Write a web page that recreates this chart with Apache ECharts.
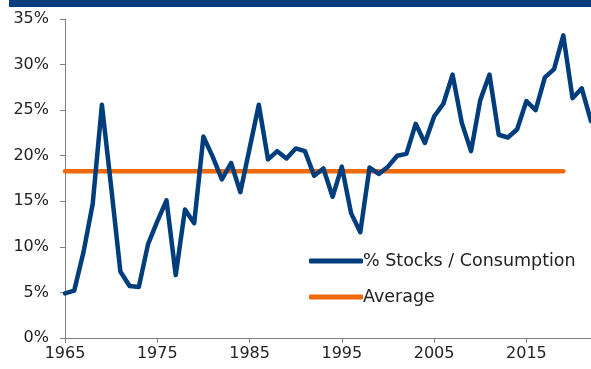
<!DOCTYPE html>
<html>
<head>
<meta charset="utf-8">
<script src="https://cdn.jsdelivr.net/npm/echarts@6/dist/echarts.min.js"></script>
<style>
  html, body { margin: 0; padding: 0; background: #ffffff; }
  #chart { width: 591px; height: 369px; }
</style>
</head>
<body>
<div id="chart"></div>
<script>
// Years shown on the horizontal axis
const years = [];
for (let y = 1965; y <= 2022; y++) years.push(String(y));

// Ending stocks as a share of consumption (%), one value per year 1965-2022
const stocksPct = [
  4.9, 5.2, 9.4, 14.7, 25.6, 16.6, 7.3, 5.7, 5.6, 10.3,
  12.8, 15.1, 6.9, 14.1, 12.6, 22.1, 19.9, 17.4, 19.2, 16.0,
  20.8, 25.6, 19.6, 20.5, 19.7, 20.8, 20.5, 17.8, 18.6, 15.5,
  18.8, 13.7, 11.6, 18.7, 18.0, 18.8, 20.0, 20.2, 23.5, 21.4,
  24.3, 25.7, 28.9, 23.6, 20.5, 26.1, 28.9, 22.3, 22.0, 22.9,
  26.0, 25.0, 28.6, 29.5, 33.2, 26.3, 27.4, 23.8
];

// Long-run average and the last year it is drawn through
const averagePct = 18.3;
const averageEndYear = 2019;
const averageLine = years.map(y => (Number(y) <= averageEndYear ? averagePct : null));

const BLUE = '#003d7c';
const ORANGE = '#ee6a0c';
const FONT = 'DejaVu Sans';

const chart = echarts.init(document.getElementById('chart'), null, { renderer: 'canvas' });
chart.setOption({
  animation: false,
  backgroundColor: '#ffffff',
  textStyle: { fontFamily: FONT },
  graphic: [{
    type: 'rect',
    shape: { x: 9, y: 0, width: 582, height: 7 },
    style: { fill: BLUE }
  }],
  grid: { left: 65, right: 0, top: 19, bottom: 31, containLabel: false },
  legend: {
    orient: 'vertical',
    left: 304,
    top: 247,
    itemWidth: 54,
    itemHeight: 5,
    itemGap: 18,
    icon: 'roundRect',
    textStyle: { fontFamily: FONT, fontSize: 17.5, color: '#222', padding: [0, 0, 0, -5] },
    data: ['% Stocks / Consumption', 'Average']
  },
  xAxis: {
    type: 'category',
    data: years,
    boundaryGap: false,
    axisLine: { lineStyle: { color: '#7f7f7f', width: 1 } },
    axisTick: { show: true, interval: 9, length: 5, lineStyle: { color: '#7f7f7f' } },
    axisLabel: { interval: 9, color: '#222', fontSize: 16, margin: 8, fontFamily: FONT },
    splitLine: { show: false }
  },
  yAxis: {
    type: 'value',
    min: 0,
    max: 35,
    interval: 5,
    axisLine: { show: true, lineStyle: { color: '#7f7f7f', width: 1 } },
    axisTick: { show: true, length: 5, lineStyle: { color: '#7f7f7f' } },
    axisLabel: { formatter: '{value}%', color: '#222', fontSize: 16, margin: 16, fontFamily: FONT },
    splitLine: { show: false }
  },
  series: [
    {
      name: '% Stocks / Consumption',
      type: 'line',
      data: stocksPct,
      showSymbol: false,
      symbol: 'none',
      itemStyle: { color: BLUE },
      lineStyle: { color: BLUE, width: 4.5, join: 'round', cap: 'round' },
      z: 3
    },
    {
      name: 'Average',
      type: 'line',
      data: averageLine,
      showSymbol: false,
      symbol: 'none',
      itemStyle: { color: ORANGE },
      lineStyle: { color: ORANGE, width: 4.5, cap: 'round' },
      z: 2
    }
  ]
});
</script>
</body>
</html>
